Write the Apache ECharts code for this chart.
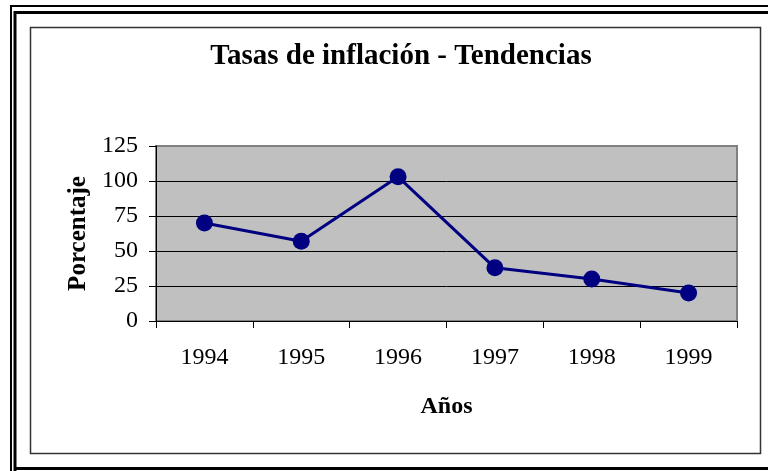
<!DOCTYPE html>
<html>
<head>
<meta charset="utf-8">
<script src="https://cdn.jsdelivr.net/npm/echarts@6/dist/echarts.min.js"></script>
<style>
  html, body { margin: 0; padding: 0; background: #fff; }
  #chart { width: 768px; height: 471px; }
</style>
</head>
<body>
<div id="chart"></div>
<script>
// data
const years = ['1994', '1995', '1996', '1997', '1998', '1999']
const inflation = [70, 57, 103, 38, 30, 20]
const yTicks = { min: 0, max: 125, step: 25 }

const serif = '"Liberation Serif", "DejaVu Serif", serif'

const chart = echarts.init(document.getElementById('chart'))

const option = {
  backgroundColor: '#fff',
  animation: false,
  title: {
    text: 'Tasas de inflación - Tendencias',
    left: 396,
    top: 37,
    textAlign: 'center',
    textStyle: { fontFamily: serif, fontWeight: 'bold', fontSize: 29, color: '#000' },
  },
  grid: {
    left: 156,
    right: 31,
    top: 146,
    bottom: 150,
    show: true,
    backgroundColor: '#c0c0c0',
    borderColor: '#808080',
    borderWidth: 2,
  },
  xAxis: {
    type: 'category',
    data: years,
    boundaryGap: true,
    name: 'Años',
    nameLocation: 'middle',
    nameGap: 74,
    nameTextStyle: { fontFamily: serif, fontWeight: 'bold', fontSize: 24, color: '#000' },
    axisLine: { lineStyle: { color: '#000', width: 1 } },
    axisTick: { show: true, inside: false, length: 7, alignWithLabel: false, lineStyle: { color: '#000' } },
    axisLabel: { fontFamily: serif, fontSize: 24, color: '#000', margin: 25 },
    splitLine: { show: false },
  },
  yAxis: {
    type: 'value',
    min: yTicks.min,
    max: yTicks.max,
    interval: yTicks.step,
    name: 'Porcentaje',
    nameLocation: 'middle',
    nameRotate: 90,
    nameGap: 63,
    nameTextStyle: { fontFamily: serif, fontWeight: 'bold', fontSize: 25, color: '#000' },
    axisLine: { show: true, lineStyle: { color: '#000', width: 1 } },
    axisTick: { show: true, inside: false, length: 7, lineStyle: { color: '#000' } },
    axisLabel: { fontFamily: serif, fontSize: 24, color: '#000', margin: 18 },
    splitLine: { show: true, showMinLine: false, showMaxLine: false, lineStyle: { color: '#000', width: 1 } },
  },
  series: [
    {
      type: 'line',
      data: inflation,
      symbol: 'circle',
      symbolSize: 17,
      lineStyle: { color: '#000080', width: 3 },
      itemStyle: { color: '#000080' },
      z: 5,
    },
  ],
  graphic: [
    // outer double frame (cut on the right like the picture)
    { type: 'polyline', shape: { points: [[11, 471], [11, 6], [768, 6]] }, style: { stroke: '#000', lineWidth: 2, fill: null } },
    { type: 'polyline', shape: { points: [[15, 471], [15, 12.5], [768, 12.5]] }, style: { stroke: '#000', lineWidth: 3, fill: null } },
    { type: 'line', shape: { x1: 15, y1: 468.5, x2: 768, y2: 468.5 }, style: { stroke: '#000', lineWidth: 3 } },
    // inner chart-area border
    { type: 'rect', shape: { x: 30.5, y: 27.5, width: 730, height: 426 }, style: { stroke: '#333', lineWidth: 1.5, fill: null } },
  ],
}

chart.setOption(option)
</script>
</body>
</html>
